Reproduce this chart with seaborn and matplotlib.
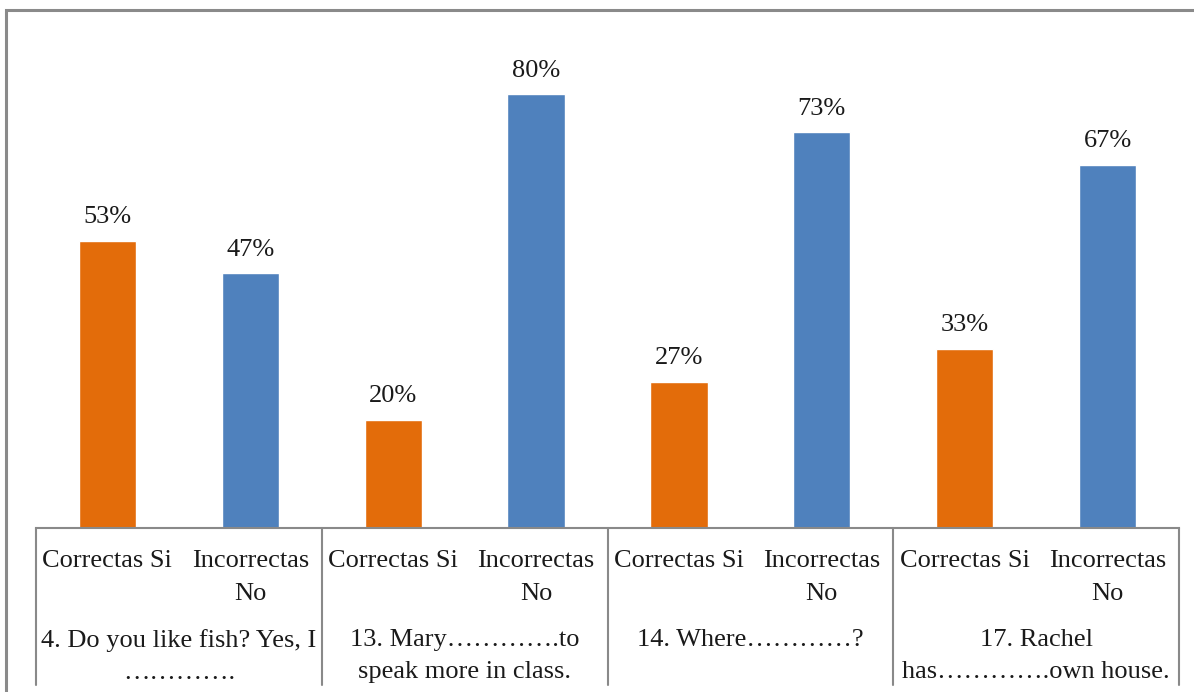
import pandas as pd
import matplotlib.pyplot as plt
import matplotlib.transforms as mtransforms
from matplotlib.patches import Rectangle
import seaborn as sns

# data
questions = [
    "4. Do you like fish? Yes, I\n\u2026\u2026\u2026\u2026.",
    "13. Mary\u2026\u2026\u2026\u2026.to\nspeak more in class.",
    "14. Where\u2026\u2026\u2026\u2026?",
    "17. Rachel\nhas\u2026\u2026\u2026\u2026.own house.",
]
answers = ["Correctas Si", "Incorrectas\nNo"]
correct_pct = [53, 20, 27, 33]
incorrect_pct = [47, 80, 73, 67]

colors = {"Correctas Si": "#E36C0A", "Incorrectas\nNo": "#4F81BD"}

rows = []
for i, q in enumerate(questions):
    rows.append({"slot": f"{i}a", "q": i, "answer": answers[0], "value": correct_pct[i]})
    rows.append({"slot": f"{i}b", "q": i, "answer": answers[1], "value": incorrect_pct[i]})
df = pd.DataFrame(rows)

sns.set_style("white")
plt.rcParams["font.family"] = ["Liberation Serif", "DejaVu Serif"]

W, H = 1194, 692
fig = plt.figure(figsize=(W / 100, H / 100), dpi=100)
ax = fig.add_axes([36 / W, 1 - 528 / H, 1143 / W, 488 / H])

sns.barplot(data=df, x="slot", y="value", hue="answer", palette=colors,
            dodge=False, width=0.4, legend=False, ax=ax, saturation=1)
ax.set_ylim(0, 90)
ax.set_xlim(-0.5, len(df) - 0.5)

# value labels
for xi, v in enumerate(df["value"]):
    ax.annotate(f"{v}%", (xi, v), xytext=(0, 17), textcoords="offset points",
                ha="center", va="center", fontsize=19, color="#1a1a1a")

for s in ["top", "left", "right"]:
    ax.spines[s].set_visible(False)
ax.spines["bottom"].set_color("#898989")
ax.spines["bottom"].set_linewidth(1.5)
ax.set_xticks([])
ax.set_yticks([])
ax.set_xlabel("")
ax.set_ylabel("")

# multi-level category labels
trans = mtransforms.blended_transform_factory(ax.transData, fig.transFigure)
for xi, ans in enumerate(df["answer"]):
    ax.text(xi, 1 - 550 / H, ans, transform=trans, ha="center", va="top",
            fontsize=19, color="#1a1a1a", linespacing=1.65, clip_on=False)

for i, q in enumerate(questions):
    ax.text(2 * i + 0.5, 1 - 629 / H, q, transform=trans, ha="center", va="top",
            fontsize=19, color="#1a1a1a", linespacing=1.6, clip_on=False)

# group separators
for g in range(len(questions) + 1):
    xg = 2 * g - 0.5
    ax.plot([xg, xg], [1 - 528 / H, 1 - 685 / H], transform=trans, color="#898989",
            lw=1.5, clip_on=False)

# outer chart frame
fig.patches.append(Rectangle((6 / W, -0.1), 1.2, 1 - 10 / H + 0.1, transform=fig.transFigure,
                             fill=False, edgecolor="#8a8a8a", lw=2.2))

fig.savefig("out.png", dpi=100)
